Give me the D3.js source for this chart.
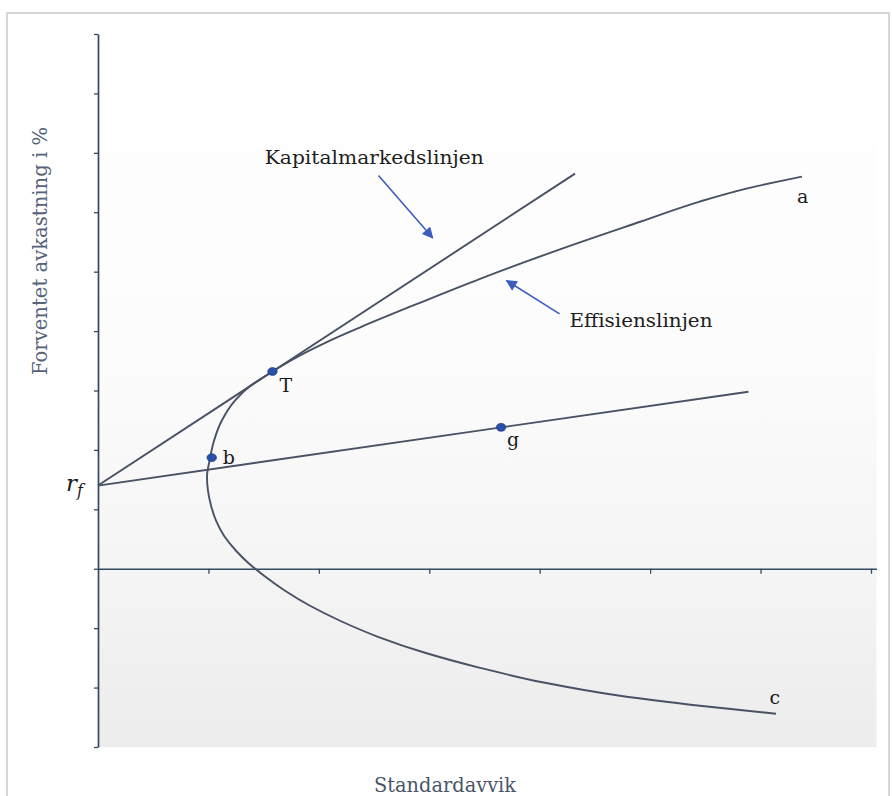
<!DOCTYPE html>
<html>
<head>
<meta charset="utf-8">
<script src="https://cdn.jsdelivr.net/npm/d3@7"></script>
<style>
  html, body { margin: 0; padding: 0; background: #ffffff; }
  svg { display: block; }
</style>
</head>
<body>
<svg id="chart" width="892" height="796"></svg>
<script>
// ---------------- DATA ----------------
const xTicks = [0, 1, 2, 3, 4, 5, 6, 7];
const yTicks = [-3, -2, -1, 0, 1, 2, 3, 4, 5, 6, 7, 8, 9];

const riskFree = 1.4;                       // r_f on the y axis
const cmlEnd = [4.32, 6.65];                // end of Kapitalmarkedslinjen
const gLineEnd = [5.89, 2.98];              // end of the line r_f -> g

// efficient frontier (hyperbola), from "a" down to "c"
const frontierSigma = [6.375, 5.90, 5.45, 4.91, 4.19, 3.46, 2.92, 2.37, 2.10, 1.83, 1.58, 1.38, 1.24, 1.12, 1.05, 1.01, 0.987,
                       0.996, 1.024, 1.069, 1.141, 1.250, 1.359, 1.504, 1.694, 1.920, 2.192, 2.536, 2.961, 3.459, 4.048, 4.727, 5.451, 6.140];
const frontierMu    = [6.60, 6.41, 6.18, 5.84, 5.38, 4.88, 4.48, 4.06, 3.84, 3.59, 3.32, 3.08, 2.83, 2.49, 2.15, 1.82, 1.549,
                       1.313, 1.061, 0.808, 0.556, 0.303, 0.101, -0.118, -0.370, -0.623, -0.875, -1.145, -1.414, -1.667, -1.919, -2.138, -2.306, -2.441];

const pointNames = ["T", "b", "g"];
const pointSigma = [1.58, 1.03, 3.65];
const pointMu    = [3.32, 1.87, 2.38];

const endLabels = ["a", "c"];
const endLabelSigma = [6.33, 6.08];
const endLabelMu    = [6.16, -2.27];

const annotTexts = ["Kapitalmarkedslinjen", "Effisienslinjen"];
const annotSigma = [1.51, 4.27];
const annotMu    = [6.82, 4.07];
const arrowFrom  = [[2.54, 6.62], [4.18, 4.29]];
const arrowTo    = [[3.03, 5.57], [3.70, 4.85]];

const xTitle = "Standardavvik";
const yTitle = "Forventet avkastning i %";

// ---------------- LAYOUT ----------------
const svg = d3.select("#chart");
const plotLeft = 98, plotRight = 876.5, plotTop = 34, plotBottom = 747;

const x = d3.scaleLinear().domain([0, 7.05]).range([plotLeft, plotRight]);
const y = d3.scaleLinear().domain([-3, 9]).range([plotBottom, plotTop]);

const lineColor = "#485264";
const axisColor = "#344860";
const arrowColor = "#3d5cbf";
const serif = "'DejaVu Serif', 'Liberation Serif', serif";

// defs
const defs = svg.append("defs");
const grad = defs.append("linearGradient").attr("id", "bg").attr("x1", 0).attr("y1", 0).attr("x2", 0).attr("y2", 1);
grad.append("stop").attr("offset", "0%").attr("stop-color", "#ffffff");
grad.append("stop").attr("offset", "45%").attr("stop-color", "#fcfcfc");
grad.append("stop").attr("offset", "74%").attr("stop-color", "#f5f5f5");
grad.append("stop").attr("offset", "100%").attr("stop-color", "#ececec");

defs.append("marker").attr("id", "arrowhead")
  .attr("viewBox", "0 0 10 10").attr("refX", 9).attr("refY", 5)
  .attr("markerWidth", 7.5).attr("markerHeight", 7).attr("markerUnits", "strokeWidth")
  .attr("orient", "auto")
  .append("path").attr("d", "M0,0 L10,5 L0,10 Z").attr("fill", arrowColor);

// outer frame
svg.append("path")
  .attr("d", "M7,800 L7,13 L889,13 L889,800")
  .attr("fill", "none").attr("stroke", "#d6d6d6").attr("stroke-width", 2);

// plot background
svg.append("rect")
  .attr("x", x(0)).attr("y", y(9))
  .attr("width", x(7.05) - x(0)).attr("height", y(-3) - y(9))
  .attr("fill", "url(#bg)");

// axes
const yAxis = d3.axisLeft(y).tickValues(yTicks).tickSize(4).tickSizeOuter(0).tickFormat("");
const gy = svg.append("g").attr("transform", `translate(${x(0)},0)`).call(yAxis);
gy.select(".domain").attr("stroke", axisColor).attr("stroke-width", 1.7);
gy.selectAll(".tick line").attr("stroke", axisColor).attr("stroke-width", 1.3);

const xAxis = d3.axisBottom(x).tickValues(xTicks.slice(1)).tickSize(5).tickSizeOuter(0).tickFormat("");
const gx = svg.append("g").attr("transform", `translate(0,${y(0)})`).call(xAxis);
gx.select(".domain").attr("stroke", axisColor).attr("stroke-width", 1.7);
gx.selectAll(".tick line").attr("stroke", axisColor).attr("stroke-width", 1.3);

// straight lines from r_f
const straight = d3.line().x(d => x(d[0])).y(d => y(d[1]));
svg.append("path").datum([[0, riskFree], cmlEnd]).attr("d", straight)
  .attr("fill", "none").attr("stroke", lineColor).attr("stroke-width", 1.9);
svg.append("path").datum([[0, riskFree], gLineEnd]).attr("d", straight)
  .attr("fill", "none").attr("stroke", lineColor).attr("stroke-width", 1.9);

// efficient frontier
const frontier = frontierSigma.map((s, i) => [s, frontierMu[i]]);
svg.append("path").datum(frontier)
  .attr("d", d3.line().x(d => x(d[0])).y(d => y(d[1])).curve(d3.curveMonotoneY))
  .attr("fill", "none").attr("stroke", lineColor).attr("stroke-width", 1.9);

// points
svg.selectAll("ellipse.pt").data(pointNames).join("ellipse").attr("class", "pt")
  .attr("cx", (d, i) => x(pointSigma[i])).attr("cy", (d, i) => y(pointMu[i]))
  .attr("rx", 4.8).attr("ry", 4)
  .attr("fill", "#2b4ea6").attr("stroke", "#1d3a85").attr("stroke-width", 0.6);

// point labels
const labelOffsets = { T: [7, 21], b: [11, 6], g: [6, 19] };
svg.selectAll("text.ptl").data(pointNames).join("text").attr("class", "ptl")
  .attr("x", (d, i) => x(pointSigma[i]) + labelOffsets[d][0])
  .attr("y", (d, i) => y(pointMu[i]) + labelOffsets[d][1])
  .attr("font-family", serif).attr("font-size", 19).attr("fill", "#1a1a1a")
  .text(d => d);

// curve end labels
svg.selectAll("text.endl").data(endLabels).join("text").attr("class", "endl")
  .attr("x", (d, i) => x(endLabelSigma[i])).attr("y", (d, i) => y(endLabelMu[i]))
  .attr("font-family", serif).attr("font-size", 19).attr("fill", "#1a1a1a")
  .text(d => d);

// r_f label
const rf = svg.append("text").attr("x", 66).attr("y", y(riskFree) + 5)
  .attr("font-family", serif).attr("font-style", "italic").attr("font-size", 23).attr("fill", "#1a1a1a");
rf.append("tspan").text("r");
rf.append("tspan").attr("font-size", 16).attr("dy", 5).text("f");

// annotations
svg.selectAll("text.ann").data(annotTexts).join("text").attr("class", "ann")
  .attr("x", (d, i) => x(annotSigma[i])).attr("y", (d, i) => y(annotMu[i]))
  .attr("font-family", serif).attr("font-size", 19).attr("fill", "#1e1e1e")
  .attr("textLength", (d, i) => [219, 143][i]).attr("lengthAdjust", "spacingAndGlyphs")
  .text(d => d);

svg.selectAll("line.arrow").data(arrowFrom).join("line").attr("class", "arrow")
  .attr("x1", d => x(d[0])).attr("y1", d => y(d[1]))
  .attr("x2", (d, i) => x(arrowTo[i][0])).attr("y2", (d, i) => y(arrowTo[i][1]))
  .attr("stroke", arrowColor).attr("stroke-width", 1.6)
  .attr("marker-end", "url(#arrowhead)");

// axis titles
svg.append("text").attr("x", 445).attr("y", 792).attr("text-anchor", "middle")
  .attr("font-family", serif).attr("font-size", 20).attr("fill", "#4a5568")
  .attr("textLength", 142).attr("lengthAdjust", "spacingAndGlyphs")
  .text(xTitle);

svg.append("text").attr("transform", "translate(47,251) rotate(-90)").attr("text-anchor", "middle")
  .attr("font-family", serif).attr("font-size", 20).attr("fill", "#56627a")
  .attr("textLength", 248).attr("lengthAdjust", "spacingAndGlyphs")
  .text(yTitle);
</script>
</body>
</html>
